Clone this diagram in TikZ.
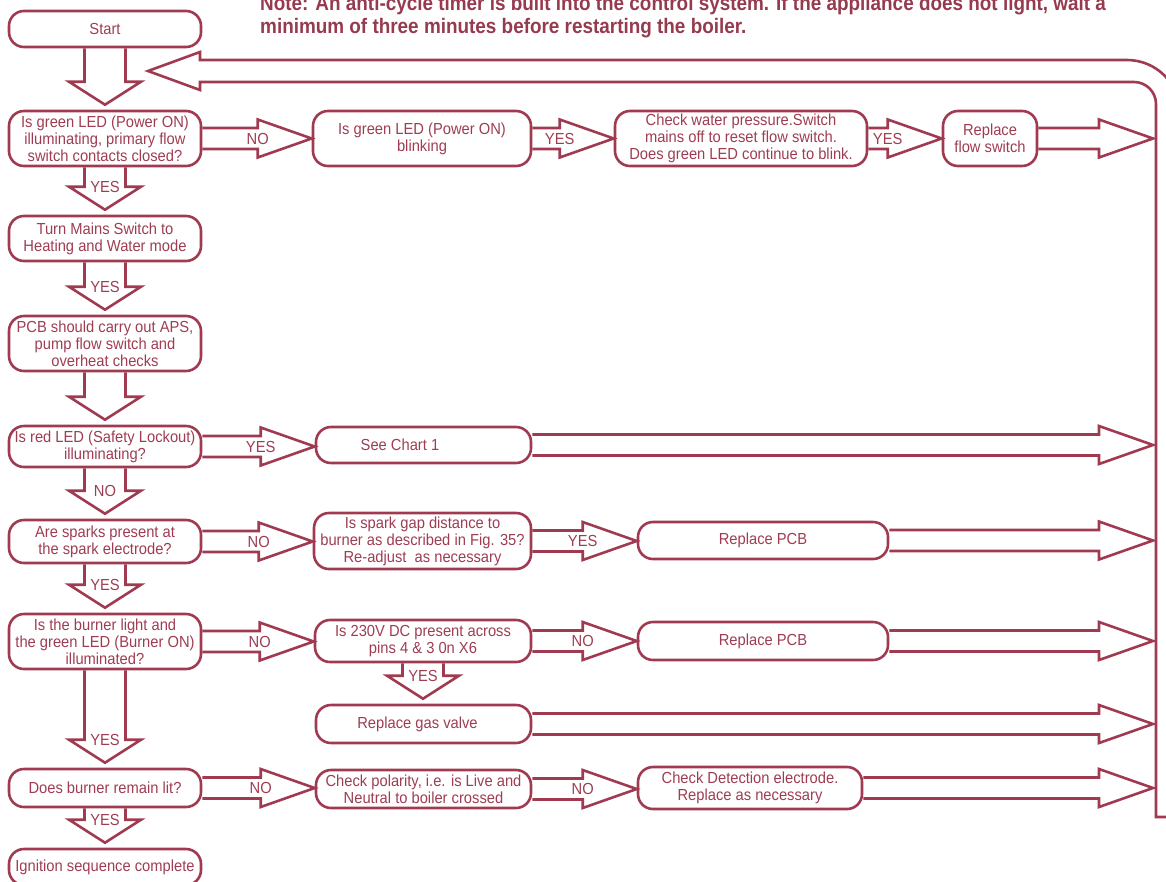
\documentclass[tikz,border=0pt]{standalone}
\usepackage{fontspec}
\setmainfont{Liberation Sans}[FakeStretch=0.92]
\newfontfamily\notefont{Liberation Sans}[FakeStretch=0.9]
\usetikzlibrary{calc}
\definecolor{mar}{HTML}{A03A50}
\definecolor{martext}{HTML}{9E3D52}
\definecolor{notecol}{HTML}{963A4E}
\newcommand\fatR[3]{\path[fat] let \p1=(#1), \p2=(#2) in
  (\x1,\y1+10.5pt) -- (\x2-54pt,\y1+10.5pt) -- (\x2-54pt,\y1+19pt) -- (\x2,\y1)
  -- (\x2-54pt,\y1-19pt) -- (\x2-54pt,\y1-10.5pt) -- (\x1,\y1-10.5pt)
  node[lab] at (\x2-54pt,\y1) {#3};}
\newcommand\fatD[3]{\path[fat] let \p1=(#1), \p2=(#2) in
  (\x1-20.5pt,\y1) -- (\x1-20.5pt,\y2+28pt) -- (\x1-36pt,\y2+28pt) -- (\x1,\y2+5pt)
  -- (\x1+36pt,\y2+28pt) -- (\x1+20.5pt,\y2+28pt) -- (\x1+20.5pt,\y1)
  node[lab] at (\x1,\y2+28pt) {#3};}
\begin{document}
\begin{tikzpicture}[x=1pt,y=-1pt,
  box/.style={draw=mar, line width=2.6pt, rounded corners=15pt, text=martext,
    align=center, inner sep=0pt, font=\fontsize{16}{17}\selectfont},
  fat/.style={draw=mar, line width=2.6pt, line join=miter},
  lab/.style={text=martext, font=\fontsize{16}{17}\selectfont, inner sep=0pt}]
\useasboundingbox (0,0) rectangle (1166,881);
% note
\node[anchor=base west, text=notecol, font=\notefont\bfseries\fontsize{21}{23}\selectfont, inner sep=0pt] (note1) at (260,10) {Note: An anti-cycle timer is built into the control system. If the appliance does not light, wait a};
\node[anchor=base west, text=notecol, font=\notefont\bfseries\fontsize{21}{23}\selectfont, inner sep=0pt] (note2) at (260,33) {minimum of three minutes before restarting the boiler.};
% left column
\node[box, minimum width=192pt, minimum height=36pt] (start) at (105,29) {Start};
\node[box, minimum width=192pt, minimum height=55pt] (q1) at (105,138.5) {Is green LED (Power ON)\\illuminating, primary flow\\switch contacts closed?};
\node[box, minimum width=192pt, minimum height=45pt] (mains) at (105,238.5) {Turn Mains Switch to\\Heating and Water mode};
\node[box, minimum width=192pt, minimum height=55pt] (pcb) at (105,343.5) {PCB should carry out APS,\\pump flow switch and\\overheat checks};
\node[box, minimum width=192pt, minimum height=41pt] (red) at (105,446.5) {Is red LED (Safety Lockout)\\illuminating?};
\node[box, minimum width=192pt, minimum height=43pt] (sparks) at (105,541.5) {Are sparks present at\\the spark electrode?};
\node[box, minimum width=192pt, minimum height=55pt] (burner) at (105,641.5) {Is the burner light and\\the green LED (Burner ON)\\illuminated?};
\node[box, minimum width=192pt, minimum height=38pt] (lit) at (105,788) {Does burner remain lit?};
\node[box, minimum width=192pt, minimum height=36pt] (done) at (105,867) {Ignition sequence complete};
% middle / right
\node[box, minimum width=218pt, minimum height=55pt] (blink) at (422,138.5) {Is green LED (Power ON)\\blinking};
\node[box, minimum width=252pt, minimum height=55pt] (water) at (741,138.5) {Check water pressure.Switch\\mains off to reset flow switch.\\Does green LED continue to blink.};
\node[box, minimum width=94pt, minimum height=55pt] (flow) at (990,138.5) {Replace\\flow switch};
\node[box, minimum width=215pt, minimum height=36pt] (chart) at (423.5,445) {See Chart 1\hspace*{47pt}};
\node[box, minimum width=217pt, minimum height=56pt] (gap) at (422.5,541) {Is spark gap distance to\\burner as described in Fig. 35?\\Re-adjust\ \ as necessary};
\node[box, minimum width=250pt, minimum height=37pt] (pcbA) at (763,540.5) {Replace PCB};
\node[box, minimum width=216pt, minimum height=42pt] (v230) at (423,641) {Is 230V DC present across\\pins 4 \& 3 0n X6};
\node[box, minimum width=250pt, minimum height=38pt] (pcbB) at (763,641) {Replace PCB};
\node[box, minimum width=215pt, minimum height=38pt] (gas) at (423.5,724) {Replace gas valve\hspace*{12pt}};
\node[box, minimum width=215pt, minimum height=38pt] (pol) at (423.5,789) {Check polarity, i.e. is Live and\\Neutral to boiler crossed};
\node[box, minimum width=224pt, minimum height=42pt] (det) at (750,788) {Check Detection electrode.\\Replace as necessary};
% return line end points
\coordinate (e1) at (1153,138.5);
\coordinate (e2) at (1153,445);
\coordinate (e3) at (1153,540.5);
\coordinate (e4) at (1153,641);
\coordinate (e5) at (1153,724);
\coordinate (e6) at (1153,788);
\coordinate (rtip) at (148,71);
% down arrows
\fatD{start.south}{q1.north}{}
\fatD{q1.south}{mains.north}{YES}
\fatD{mains.south}{pcb.north}{YES}
\fatD{pcb.south}{red.north}{}
\fatD{red.south}{sparks.north}{NO}
\fatD{sparks.south}{burner.north}{YES}
\fatD{burner.south}{lit.north}{YES}
\fatD{lit.south}{done.north}{YES}
\fatD{v230.south}{gas.north}{YES}
% right arrows
\fatR{q1.east}{blink.west}{NO}
\fatR{blink.east}{water.west}{YES}
\fatR{water.east}{flow.west}{YES}
\fatR{flow.east}{e1}{}
\fatR{red.east}{chart.west}{YES}
\fatR{chart.east}{e2}{}
\fatR{sparks.east}{gap.west}{NO}
\fatR{gap.east}{pcbA.west}{YES}
\fatR{pcbA.east}{e3}{}
\fatR{burner.east}{v230.west}{NO}
\fatR{v230.east}{pcbB.west}{NO}
\fatR{pcbB.east}{e4}{}
\fatR{gas.east}{e5}{}
\fatR{lit.east}{pol.west}{NO}
\fatR{pol.east}{det.west}{NO}
\fatR{det.east}{e6}{}
% return arrow
\path[fat] (1180,400) -- (1180,113) arc[start angle=0, end angle=90, radius=53pt]
  -- (200,60) -- (200,52) -- (rtip) -- (200,90) -- (200,82) -- (1134,82)
  arc[start angle=90, end angle=0, radius=22pt] -- (1156,817) -- (1166,817);
\end{tikzpicture}
\end{document}
